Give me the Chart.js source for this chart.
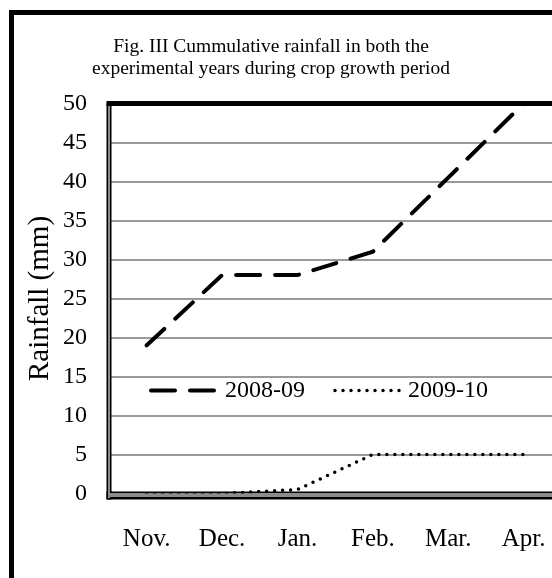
<!DOCTYPE html>
<html>
<head>
<meta charset="utf-8">
<script src="https://cdn.jsdelivr.net/npm/chart.js@4"></script>
<style>
  html, body { margin: 0; padding: 0; background: #fff; overflow: hidden; }
  body { width: 552px; height: 578px; position: relative; }
  #frame {
    position: absolute; left: 9px; top: 10px;
    width: 600px; height: 620px;
    border: 5px solid #000;
  }
  #wrap { position: absolute; left: -23px; top: 0; width: 600px; height: 578px; }
</style>
</head>
<body>
<div id="frame"></div>
<div id="wrap"><canvas id="grafico" width="600" height="578"></canvas></div>
<script>
  // Datos
  const meses = ["Nov.", "Dec.", "Jan.", "Feb.", "Mar.", "Apr."];
  const lluvia0809 = [19, 28, 28, 31, 40.5, 50];
  const lluvia0910 = [0, 0, 0.5, 5, 5, 5];
  const ticksY = [0, 5, 10, 15, 20, 25, 30, 35, 40, 45, 50];

  const serif = "'Liberation Serif', 'Times New Roman', serif";

  // Marco del area del grafico (estilo Excel)
  const marco = {
    id: "marco",
    beforeDatasetsDraw(chart) {
      const { ctx, chartArea: a } = chart;
      ctx.save();
      ctx.fillStyle = "#000";
      ctx.fillRect(a.left - 2.5, a.top - 2.5, 600, 5);
      ctx.fillRect(a.left - 2.5, a.top, 5, a.bottom - a.top + 6);
      ctx.fillRect(a.left - 2.5, a.bottom - 2, 600, 8);
      ctx.fillStyle = "#8c8c8c";
      ctx.fillRect(a.left - 1, a.top + 2.5, 2, a.bottom - a.top + 2);
      ctx.fillRect(a.left - 1, a.bottom - 0.5, 600, 4);
      ctx.restore();
    },
  };

  // Leyenda dentro del area del grafico
  const leyenda = {
    id: "leyenda",
    afterDatasetsDraw(chart) {
      const { ctx, chartArea: a } = chart;
      const y = chart.scales.y.getPixelForValue(13.2);
      const items = [
        { x0: a.left + 42, x1: a.left + 111, tx: a.left + 116 },
        { x0: a.left + 226, x1: a.left + 292, tx: a.left + 299 },
      ];
      ctx.save();
      chart.data.datasets.forEach((ds, i) => {
        const it = items[i];
        ctx.beginPath();
        ctx.strokeStyle = ds.borderColor;
        ctx.lineWidth = ds.borderWidth;
        ctx.lineCap = ds.borderCapStyle;
        ctx.setLineDash(ds.borderDash);
        ctx.moveTo(it.x0, y);
        ctx.lineTo(it.x1, y);
        ctx.stroke();
        ctx.setLineDash([]);
        ctx.fillStyle = "#000";
        ctx.font = "24px " + serif;
        ctx.textBaseline = "middle";
        ctx.textAlign = "left";
        ctx.fillText(ds.label, it.tx, y);
      });
      ctx.restore();
    },
  };

  new Chart(document.getElementById("grafico").getContext("2d"), {
    type: "line",
    data: {
      labels: meses,
      datasets: [
        {
          label: "2008-09",
          data: lluvia0809,
          borderColor: "#000",
          borderWidth: 4,
          borderDash: [24, 15],
          borderCapStyle: "round",
          pointRadius: 0,
          tension: 0,
        },
        {
          label: "2009-10",
          data: lluvia0910,
          borderColor: "#000",
          borderWidth: 3.5,
          borderDash: [0, 8],
          borderCapStyle: "round",
          pointRadius: 0,
          tension: 0,
        },
      ],
    },
    plugins: [marco, leyenda],
    options: {
      responsive: false,
      animation: false,
      devicePixelRatio: 1,
      layout: { padding: { left: 0, right: 12, top: 0, bottom: 0 } },
      plugins: {
        legend: { display: false },
        tooltip: { enabled: false },
        title: {
          display: true,
          text: [
            "Fig. III Cummulative rainfall in both the",
            "experimental years during crop growth period",
          ],
          color: "#000",
          font: { family: serif, size: 19.5, weight: "normal", lineHeight: 22 / 19.5 },
          padding: { top: 35.6, bottom: 23.9 },
        },
      },
      scales: {
        x: {
          offset: true,
          grid: { display: false, drawTicks: false },
          border: { display: false },
          ticks: { color: "#000", font: { family: serif, size: 25 }, padding: 30.5 },
          afterFit(scale) { scale.height = 84.5; },
        },
        y: {
          min: 0,
          max: 50,
          afterBuildTicks(scale) { scale.ticks = ticksY.map((v) => ({ value: v })); },
          grid: { color: "#9a9a9a", lineWidth: 2, drawTicks: false },
          border: { display: false },
          ticks: { color: "#000", font: { family: serif, size: 24 }, padding: 22 },
          title: {
            display: true,
            text: "Rainfall (mm)",
            color: "#000",
            font: { family: serif, size: 29 },
            padding: { top: 45.6, bottom: 0 },
          },
          afterFit(scale) { scale.width = 132; },
        },
      },
    },
  });
</script>
</body>
</html>
